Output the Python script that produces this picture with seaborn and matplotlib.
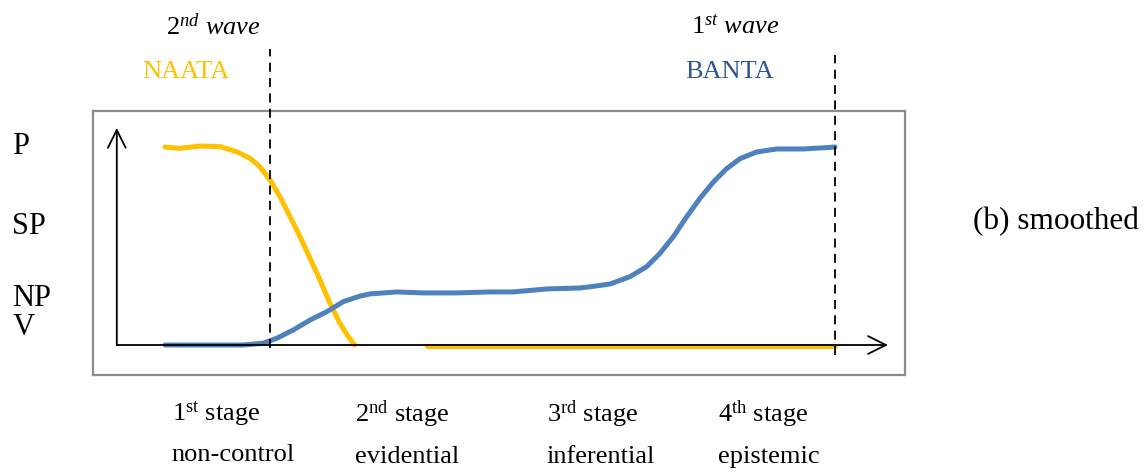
'''Two waves of NAATA / BANTA across the four stages (smoothed)'''
import pandas as pd
import seaborn as sns
import matplotlib.pyplot as plt

# curve readings: x = progress along the stages (0..100), y = level (0 = V baseline, 1 = P)
naata_x = [0, 2.24, 5.22, 8.21, 10.70, 12.69, 14.18, 15.67, 17.16, 18.66, 20.15, 21.64, 23.13,
           24.63, 26.12, 27.36, 28.3]
naata_y = [1.0, 0.993, 1.005, 1.002, 0.976, 0.943, 0.900, 0.833, 0.749, 0.648, 0.547, 0.438, 0.328,
           0.210, 0.109, 0.042, 0.0]
naata_tail_x = [39.1, 100]
naata_tail_y = [-0.006, -0.006]

banta_x = [0, 11.64, 14.67, 16.67, 19.15, 21.64, 24.13, 26.61, 29.10, 30.60, 34.63, 38.51, 43.58,
           48.51, 51.94, 57.01, 61.9, 63.43, 66.42, 69.40, 71.90, 73.88, 75.87, 77.87, 79.85, 81.84,
           83.84, 85.82, 88.31, 91.30, 95.27, 99.25, 100]
banta_y = [0, 0, 0.009, 0.034, 0.076, 0.126, 0.168, 0.219, 0.247, 0.258, 0.268, 0.263, 0.263,
           0.268, 0.268, 0.283, 0.288, 0.294, 0.308, 0.345, 0.396, 0.463, 0.547, 0.648, 0.741, 0.823,
           0.891, 0.941, 0.975, 0.990, 0.990, 0.998, 1.0]

level_pos = [1.02, 0.616, 0.255, 0.108]
level_labels = ['P', 'SP', 'NP', 'V']

stage_pos = [1.0, 28.4, 57.0, 82.5]
stage_labels = ['$1^{\\mathrm{st}}$ stage\nnon-control',
                '$2^{\\mathrm{nd}}$ stage\nevidential',
                '$3^{\\mathrm{rd}}$ stage\ninferential',
                '$4^{\\mathrm{th}}$ stage\nepistemic']

wave_pos = [15.7, 100]        # dashed wave boundaries
wave_labels = ['$\\mathit{2^{nd}}$ wave', '$\\mathit{1^{st}}$ wave']
wave_label_x = [7.2, 85.1]
series_names = ['NAATA', 'BANTA']
series_label_x = [3.1, 84.3]

YELLOW = '#FFC000'
BLUE = '#4F81BD'
BLUE_TEXT = '#2F5496'

sns.set_theme(style='white')
plt.rcParams['font.family'] = ['Liberation Serif', 'DejaVu Serif']
plt.rcParams['mathtext.fontset'] = 'custom'
plt.rcParams['mathtext.rm'] = 'Liberation Serif'
plt.rcParams['mathtext.it'] = 'Liberation Serif:italic'
plt.rcParams['text.color'] = 'black'
plt.rcParams['xtick.labelcolor'] = 'black'
plt.rcParams['ytick.labelcolor'] = 'black'

W, H = 1148, 472
fig = plt.figure(figsize=(W / 100, H / 100), dpi=100)
# axes = the grey frame
ax = fig.add_axes([93 / W, (H - 375) / H, (905 - 93) / W, (375 - 111) / H])

naata = pd.DataFrame({'x': naata_x, 'y': naata_y})
naata_tail = pd.DataFrame({'x': naata_tail_x, 'y': naata_tail_y})
banta = pd.DataFrame({'x': banta_x, 'y': banta_y})

sns.lineplot(data=naata, x='x', y='y', ax=ax, color=YELLOW, lw=3.6, sort=False, zorder=3)
sns.lineplot(data=naata_tail, x='x', y='y', ax=ax, color=YELLOW, lw=3.6, sort=False, zorder=3)
sns.lineplot(data=banta, x='x', y='y', ax=ax, color=BLUE, lw=3.6, sort=False, zorder=3)

ax.set_xlim(-10.75, 110.45)
ax.set_ylim(-0.1515, 1.1818)

# axis arrows
arrow = dict(arrowstyle='->', color='black', lw=1.3, mutation_scale=32, shrinkA=0, shrinkB=0)
ax.annotate('', xy=(107.9, 0), xytext=(-7.2, 0), arrowprops=arrow, zorder=4)
ax.annotate('', xy=(-7.2, 1.096), xytext=(-7.2, 0), arrowprops=arrow, zorder=4)

# dashed wave boundaries
ax.plot([wave_pos[0]] * 2, [-0.015, 1.495], color='black', lw=1.3, dashes=(5, 3.5), clip_on=False, zorder=5)
ax.plot([wave_pos[1]] * 2, [-0.05, 1.465], color='black', lw=1.3, dashes=(5, 3.5), clip_on=False, zorder=5)

for x, lab in zip(wave_label_x, wave_labels):
    ax.text(x, 1.606, lab, ha='center', va='center', fontsize=19, style='italic', clip_on=False)
ax.text(series_label_x[0], 1.379, series_names[0], ha='center', va='center', fontsize=19, color=YELLOW)
ax.text(series_label_x[1], 1.379, series_names[1], ha='center', va='center', fontsize=19, color=BLUE_TEXT)

ax.set_yticks(level_pos)
ax.set_yticklabels(level_labels, fontsize=22)
ax.tick_params(axis='y', length=0, pad=58)
for t in ax.get_yticklabels():
    t.set_ha('left')

ax.set_xticks(stage_pos)
ax.set_xticklabels(stage_labels, fontsize=19, linespacing=1.95)
ax.tick_params(axis='x', length=0, pad=17)
for t in ax.get_xticklabels():
    t.set_ha('left')
    t.set_va('top')

ax.set_xlabel('')
ax.set_ylabel('')
for s in ax.spines.values():
    s.set_color('#8c8c8c')
    s.set_linewidth(1.6)
    s.set_visible(True)

fig.text(973 / W, 1 - 222 / H, '(b) smoothed', ha='left', va='center', fontsize=22.5)

fig.savefig('out.png', dpi=100, facecolor='white')
